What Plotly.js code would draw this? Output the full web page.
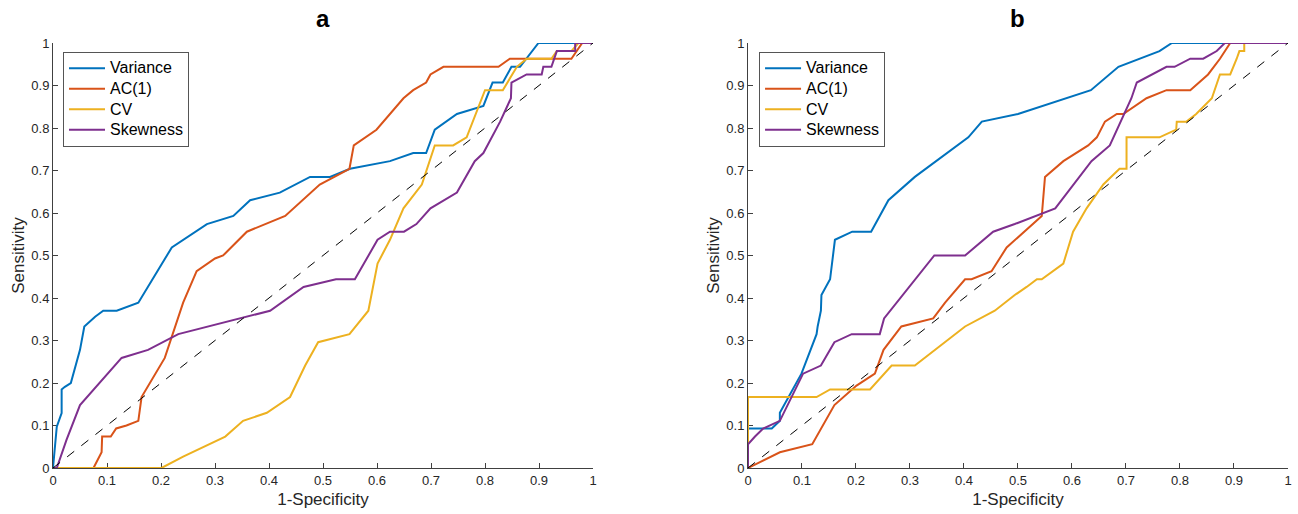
<!DOCTYPE html>
<html>
<head>
<meta charset="utf-8">
<script src="https://cdn.plot.ly/plotly-3.0.1.min.js"></script>
<style>html,body{margin:0;padding:0;background:#fff;}#chart{width:1298px;height:514px;}</style>
</head>
<body>
<div id="chart"></div>
<script>
// ---- Data ----
const seriesNames = ["Variance", "AC(1)", "CV", "Skewness"];
const tickVals = [0, 0.1, 0.2, 0.3, 0.4, 0.5, 0.6, 0.7, 0.8, 0.9, 1];
const tickText = ["0", "0.1", "0.2", "0.3", "0.4", "0.5", "0.6", "0.7", "0.8", "0.9", "1"];

// Panel a
const aVarX = [0,0.007,0.016,0.016,0.022,0.033,0.05,0.058,0.078,0.093,0.118,0.158,0.22,0.285,0.334,0.365,0.42,0.476,0.513,0.55,0.624,0.667,0.691,0.707,0.748,0.797,0.814,0.833,0.849,0.865,0.899,1];
const aVarY = [0,0.097,0.129,0.185,0.191,0.2,0.278,0.333,0.356,0.37,0.37,0.389,0.519,0.574,0.593,0.63,0.648,0.685,0.685,0.704,0.722,0.741,0.741,0.796,0.833,0.852,0.907,0.907,0.944,0.944,1,1];

const aAcX = [0,0.075,0.09,0.091,0.107,0.117,0.136,0.158,0.164,0.189,0.207,0.241,0.266,0.3,0.315,0.359,0.43,0.494,0.549,0.557,0.599,0.649,0.667,0.691,0.699,0.723,0.825,0.846,0.877,0.96,0.98,1];
const aAcY = [0,0,0.037,0.074,0.074,0.093,0.1,0.111,0.167,0.222,0.259,0.389,0.463,0.493,0.5,0.556,0.593,0.667,0.704,0.759,0.796,0.87,0.889,0.907,0.926,0.944,0.944,0.963,0.963,0.963,1,1];

const aCvX = [0,0.201,0.241,0.297,0.319,0.352,0.396,0.439,0.467,0.491,0.549,0.584,0.601,0.624,0.649,0.683,0.707,0.741,0.766,0.8,0.833,0.859,0.877,0.923,0.933,0.96,0.973,1];
const aCvY = [0,0,0.027,0.06,0.074,0.111,0.13,0.167,0.241,0.296,0.315,0.37,0.481,0.537,0.611,0.667,0.759,0.759,0.778,0.889,0.889,0.944,0.963,0.963,0.981,0.981,1,1];

const aSkX = [0,0.007,0.025,0.05,0.127,0.176,0.232,0.346,0.402,0.464,0.524,0.559,0.601,0.624,0.65,0.673,0.699,0.748,0.781,0.797,0.828,0.848,0.849,0.877,0.905,0.908,0.923,0.933,0.967,0.967,1];
const aSkY = [0,0,0.066,0.148,0.259,0.278,0.315,0.352,0.37,0.426,0.444,0.444,0.537,0.556,0.556,0.574,0.611,0.648,0.722,0.741,0.815,0.87,0.907,0.926,0.926,0.944,0.944,0.981,0.981,1,1];

// Panel b
const bVarX = [0,0,0.044,0.059,0.059,0.099,0.127,0.129,0.135,0.136,0.152,0.161,0.193,0.228,0.26,0.309,0.408,0.433,0.5,0.587,0.635,0.686,0.726,0.762,0.785,1];
const bVarY = [0,0.093,0.093,0.111,0.13,0.222,0.315,0.333,0.37,0.407,0.444,0.537,0.556,0.556,0.63,0.685,0.778,0.815,0.833,0.87,0.889,0.944,0.963,0.981,1,1];

const bAcX = [0,0.059,0.119,0.16,0.201,0.235,0.251,0.284,0.343,0.365,0.402,0.414,0.451,0.479,0.544,0.55,0.584,0.63,0.646,0.661,0.683,0.695,0.738,0.775,0.819,0.852,0.874,0.893,1];
const bAcY = [0,0.037,0.056,0.148,0.194,0.222,0.278,0.333,0.352,0.389,0.444,0.444,0.463,0.519,0.593,0.685,0.722,0.759,0.778,0.815,0.833,0.833,0.87,0.889,0.889,0.926,0.963,1,1];

const bCvX = [0,0,0.127,0.152,0.226,0.266,0.309,0.346,0.402,0.457,0.494,0.516,0.535,0.544,0.584,0.602,0.627,0.658,0.688,0.701,0.701,0.762,0.793,0.794,0.812,0.83,0.859,0.874,0.893,0.905,0.91,0.919,0.919,1];
const bCvY = [0,0.167,0.167,0.185,0.185,0.241,0.241,0.278,0.333,0.37,0.407,0.426,0.444,0.444,0.481,0.556,0.611,0.667,0.704,0.704,0.778,0.778,0.796,0.815,0.815,0.833,0.87,0.926,0.926,0.963,0.981,0.981,1,1];

const bSkX = [0,0,0.013,0.028,0.059,0.102,0.135,0.16,0.192,0.244,0.252,0.345,0.402,0.454,0.494,0.569,0.636,0.67,0.71,0.72,0.775,0.79,0.819,0.843,0.868,0.883,1];
const bSkY = [0,0.056,0.074,0.093,0.111,0.222,0.241,0.296,0.315,0.315,0.352,0.5,0.5,0.556,0.574,0.611,0.722,0.759,0.87,0.907,0.944,0.944,0.963,0.963,0.981,1,1];

const diagX = [0, 1];
const diagY = [0, 1];

// ---- Styling ----
const colors = ["#0072BD", "#D95319", "#EDB120", "#7E2F8E"];
const FONT = "Liberation Sans, Arial, Helvetica, sans-serif";
const axisColor = "#404040";

function series(xs, ys, i, xa, ya, leg) {
  return {
    x: xs, y: ys, type: "scatter", mode: "lines",
    name: "<span style='font-size:16px'>" + seriesNames[i] + "</span>",
    xaxis: xa, yaxis: ya, legend: leg,
    line: {color: colors[i], width: 2},
    hoverinfo: "skip"
  };
}
function diag(xa, ya) {
  return {x: diagX, y: diagY, type: "scatter", mode: "lines", xaxis: xa, yaxis: ya,
    showlegend: false, line: {color: "#000000", width: 1, dash: "dash"}, hoverinfo: "skip"};
}

const data = [
  series(aVarX, aVarY, 0, "x", "y", "legend"),
  series(aAcX, aAcY, 1, "x", "y", "legend"),
  series(aCvX, aCvY, 2, "x", "y", "legend"),
  series(aSkX, aSkY, 3, "x", "y", "legend"),
  diag("x", "y"),
  series(bVarX, bVarY, 0, "x2", "y2", "legend2"),
  series(bAcX, bAcY, 1, "x2", "y2", "legend2"),
  series(bCvX, bCvY, 2, "x2", "y2", "legend2"),
  series(bSkX, bSkY, 3, "x2", "y2", "legend2"),
  diag("x2", "y2")
];

function xax(domain, anchor) {
  return {
    domain: domain, anchor: anchor, range: [0, 1],
    tickvals: tickVals, ticktext: tickText,
    ticks: "inside", ticklen: 5, tickwidth: 1, tickcolor: axisColor,
    showline: true, linecolor: axisColor, linewidth: 1,
    showgrid: false, zeroline: false, layer: "below traces",
    tickfont: {family: FONT, size: 13, color: "#262626"},
    title: {text: "1-Specificity", font: {family: FONT, size: 17, color: "#262626"}, standoff: 6},
    fixedrange: true
  };
}
function yax(anchor) {
  return {
    domain: [0, 1], anchor: anchor, range: [0, 1],
    tickvals: tickVals, ticktext: tickText,
    ticks: "inside", ticklen: 5, tickwidth: 1, tickcolor: axisColor,
    showline: true, linecolor: axisColor, linewidth: 1,
    showgrid: false, zeroline: false, layer: "below traces",
    tickfont: {family: FONT, size: 13, color: "#262626"},
    title: {text: "Sensitivity", font: {family: FONT, size: 17, color: "#262626"}, standoff: 2},
    fixedrange: true
  };
}

function legendBox(x) {
  return {
    x: x, y: 0.979, xanchor: "left", yanchor: "top",
    bgcolor: "#ffffff", bordercolor: "#555555", borderwidth: 1,
    font: {family: FONT, size: 13.5, color: "#000000"},
    tracegroupgap: 0, itemwidth: 36
  };
}

const layout = {
  width: 1298, height: 514,
  margin: {l: 53, r: 10, t: 43, b: 46},
  paper_bgcolor: "#ffffff", plot_bgcolor: "#ffffff",
  font: {family: FONT, color: "#262626"},
  showlegend: true,
  xaxis: xax([0, 0.43725], "y"),
  yaxis: yax("x"),
  xaxis2: xax([0.56275, 1], "y2"),
  yaxis2: yax("x2"),
  legend: legendBox(0.0081),
  legend2: legendBox(0.5717),
  annotations: [
    {text: "<b>a</b>", xref: "paper", yref: "paper", x: 0.218625, y: 1, yshift: 25,
     xanchor: "center", yanchor: "middle", showarrow: false,
     font: {family: FONT, size: 24, color: "#000000"}},
    {text: "<b>b</b>", xref: "paper", yref: "paper", x: 0.781375, y: 1, yshift: 25,
     xanchor: "center", yanchor: "middle", showarrow: false,
     font: {family: FONT, size: 24, color: "#000000"}}
  ]
};

Plotly.newPlot("chart", data, layout, {staticPlot: true, displayModeBar: false});
</script>
</body>
</html>
